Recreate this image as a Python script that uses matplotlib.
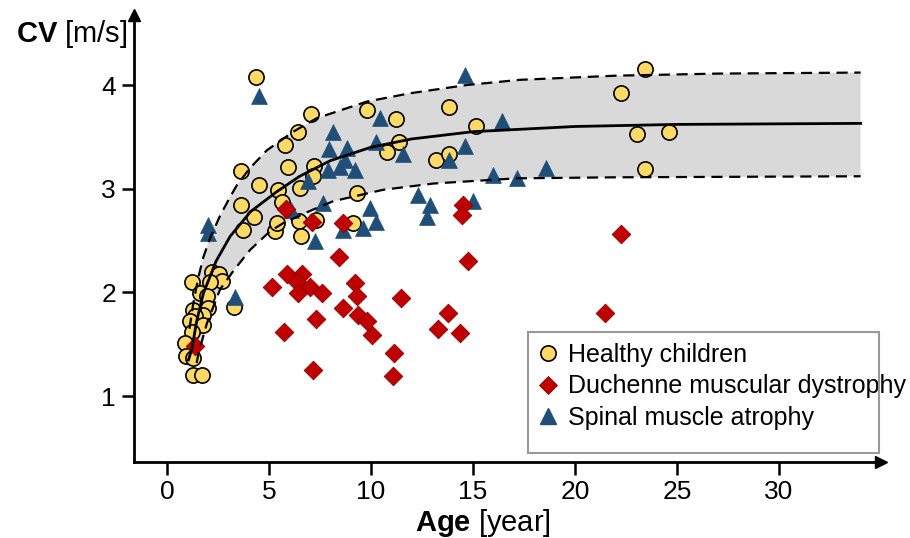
import matplotlib
matplotlib.use('Agg')
import matplotlib.pyplot as plt
from matplotlib.lines import Line2D
from matplotlib.patches import Rectangle

plt.rcParams['font.family'] = ['Liberation Sans', 'DejaVu Sans']
plt.rcParams['mathtext.fontset'] = 'custom'
plt.rcParams['mathtext.rm'] = 'Liberation Sans'
plt.rcParams['mathtext.bf'] = 'Liberation Sans:bold'

# healthy children (age [year], CV [m/s])
healthy_age = [4.35, 7.05, 6.4, 5.78, 3.63, 5.95, 4.51, 5.46, 6.52, 7.2, 7.15,
               3.63, 4.28, 3.74, 5.29, 5.37, 6.49, 6.55, 7.3, 5.65,
               9.79, 11.23, 13.84, 15.17, 11.39, 10.8, 13.2, 13.84, 9.33, 9.1,
               23.43, 22.24, 23.05, 24.62, 23.43,
               1.21, 2.19, 2.57, 2.68, 2.1, 1.62, 1.95, 2.03, 1.78, 1.29, 1.37,
               1.13, 1.78, 1.21, 0.88, 0.93, 1.29, 1.29, 1.70, 3.28]
healthy_cv = [4.08, 3.72, 3.55, 3.42, 3.17, 3.21, 3.04, 2.99, 3.01, 3.22, 3.12,
              2.84, 2.73, 2.60, 2.59, 2.67, 2.69, 2.54, 2.70, 2.87,
              3.76, 3.67, 3.79, 3.60, 3.45, 3.35, 3.28, 3.33, 2.96, 2.67,
              4.15, 3.92, 3.53, 3.55, 3.19,
              2.10, 2.20, 2.18, 2.11, 2.10, 1.99, 1.97, 1.85, 1.78, 1.83, 1.77,
              1.72, 1.69, 1.62, 1.51, 1.39, 1.37, 1.20, 1.20, 1.86]

# duchenne muscular dystrophy
dmd_age = [1.37, 5.83, 7.09, 5.16, 5.86, 6.6, 6.36, 6.44, 7.0, 7.58, 5.71, 7.3,
           7.14, 8.61, 8.45, 9.22, 9.3, 8.64, 9.38, 9.79, 10.03, 11.47, 13.79,
           13.27, 14.36, 14.77, 11.13, 11.06, 14.53, 14.44, 22.25, 21.47]
dmd_cv = [1.48, 2.80, 2.68, 2.05, 2.18, 2.18, 2.10, 1.99, 2.05, 1.99, 1.62, 1.74,
          1.25, 2.67, 2.34, 2.09, 1.97, 1.85, 1.78, 1.72, 1.59, 1.95, 1.80,
          1.65, 1.61, 2.30, 1.42, 1.19, 2.84, 2.75, 2.56, 1.80]

# spinal muscle atrophy
sma_age = [4.5, 6.93, 6.1, 7.25, 2.0, 2.0, 3.33, 10.44, 14.6, 16.4, 8.12, 7.96,
           8.81, 10.25, 11.59, 14.6, 13.84, 7.91, 8.48, 8.73, 9.22, 7.66, 12.32,
           12.9, 12.73, 16.0, 17.14, 15.02, 9.95, 10.25, 9.62, 8.64, 18.58]
sma_cv = [3.89, 3.07, 2.79, 2.50, 2.65, 2.57, 1.96, 3.68, 4.10, 3.65, 3.55, 3.38,
          3.39, 3.45, 3.33, 3.41, 3.28, 3.18, 3.21, 3.28, 3.18, 2.86, 2.94,
          2.84, 2.73, 3.13, 3.10, 2.88, 2.81, 2.68, 2.62, 2.60, 3.20]

# normative curve and band
fit_age = [1.05, 1.21, 1.45, 1.78, 2.4, 3.09, 4.1, 5.37, 6.5, 8.0, 10, 12, 15,
           20, 25, 34]
fit_cv = [1.35, 1.45, 1.72, 1.99, 2.30, 2.54, 2.78, 2.97, 3.12, 3.27, 3.40, 3.48,
          3.55, 3.60, 3.62, 3.63]
upper_age = [1.1, 1.29, 1.54, 1.78, 2.1, 2.6, 3.09, 3.41, 4.07, 4.89, 6.19, 7.34,
             9.79, 11.9, 14.7, 17.3, 22, 27, 34]
upper_cv = [1.65, 1.90, 2.15, 2.34, 2.52, 2.74, 2.92, 3.03, 3.20, 3.37, 3.55, 3.68,
            3.84, 3.92, 4.00, 4.05, 4.09, 4.11, 4.12]
lower_age = [1.45, 1.54, 1.95, 2.6, 3.3, 4.07, 5.05, 5.71, 7.17, 8.15, 10.6,
             13.06, 17.1, 22, 34]
lower_cv = [1.32, 1.41, 1.70, 2.03, 2.22, 2.41, 2.59, 2.67, 2.80, 2.88, 2.99,
            3.05, 3.10, 3.11, 3.12]

labels = ['Healthy children', 'Duchenne muscular dystrophy', 'Spinal muscle atrophy']
c_yellow = '#FFD966'
c_red = '#C00000'
c_blue = '#1F4E79'

fig = plt.figure(figsize=(9.1, 5.38), dpi=100)
W, H = 910.0, 538.0
ax = fig.add_axes([134 / W, 1 - 462 / H, (881 - 134) / W, (462 - 15) / H])
ax.set_xlim(-1.62, 35.0)
ax.set_ylim(0.365, 4.675)

# band
ax.fill(upper_age + lower_age[::-1], upper_cv + lower_cv[::-1],
        color='#d9d9d9', lw=0, zorder=1)

ax.scatter(healthy_age, healthy_cv, s=120, marker='o', facecolor=c_yellow,
           edgecolor='black', linewidth=1.2, zorder=3)
ax.scatter(sma_age, sma_cv, s=130, marker='^', facecolor=c_blue,
           edgecolor=c_blue, linewidth=0.5, zorder=4)
ax.scatter(dmd_age, dmd_cv, s=90, marker='D', facecolor=c_red,
           edgecolor='#8b0000', linewidth=0.6, zorder=5)

ax.plot(fit_age, fit_cv, color='black', lw=2.0, zorder=6)
ax.plot(upper_age, upper_cv, color='black', lw=1.6, ls=(0, (5, 3)), zorder=6)
ax.plot(lower_age, lower_cv, color='black', lw=1.6, ls=(0, (5, 3)), zorder=6)

# axes with arrows
for s in ['top', 'right']:
    ax.spines[s].set_visible(False)
for s in ['left', 'bottom']:
    ax.spines[s].set_linewidth(2.0)
ax.plot(1, 0, '>k', markersize=9, transform=ax.transAxes, clip_on=False)
ax.plot(0, 1, '^k', markersize=9, transform=ax.transAxes, clip_on=False)

ax.set_xticks([0, 5, 10, 15, 20, 25, 30])
ax.set_yticks([1, 2, 3, 4])
ax.tick_params(direction='out', length=9, width=1.8, labelsize=19, pad=4)

fig.text(128 / W, 1 - 34 / H, r'$\mathbf{CV}$ [m/s]', fontsize=21,
         ha='right', va='center')
fig.text(483 / W, 1 - 523 / H, r'$\mathbf{Age}$ [year]', fontsize=21,
         ha='center', va='center')

# legend
handles = [
    Line2D([], [], ls='', marker='o', markersize=11, markerfacecolor=c_yellow,
           markeredgecolor='black', markeredgewidth=1.2),
    Line2D([], [], ls='', marker='D', markersize=9, markerfacecolor=c_red,
           markeredgecolor='#8b0000', markeredgewidth=0.6),
    Line2D([], [], ls='', marker='^', markersize=11, markerfacecolor=c_blue,
           markeredgecolor=c_blue),
]
ax.legend(handles, labels, loc='upper left', frameon=False, fontsize=18,
          bbox_to_anchor=(538 / W, 1 - 343 / H), bbox_transform=fig.transFigure,
          borderpad=0, borderaxespad=0, handlelength=0.8, handletextpad=0.4,
          labelspacing=0.3)
fig.patches.append(Rectangle((528 / W, 1 - 453 / H), 351 / W, 121 / H,
                             transform=fig.transFigure, fill=False,
                             edgecolor='#999999', linewidth=1.5, zorder=10))

fig.savefig('out.png', dpi=100)
